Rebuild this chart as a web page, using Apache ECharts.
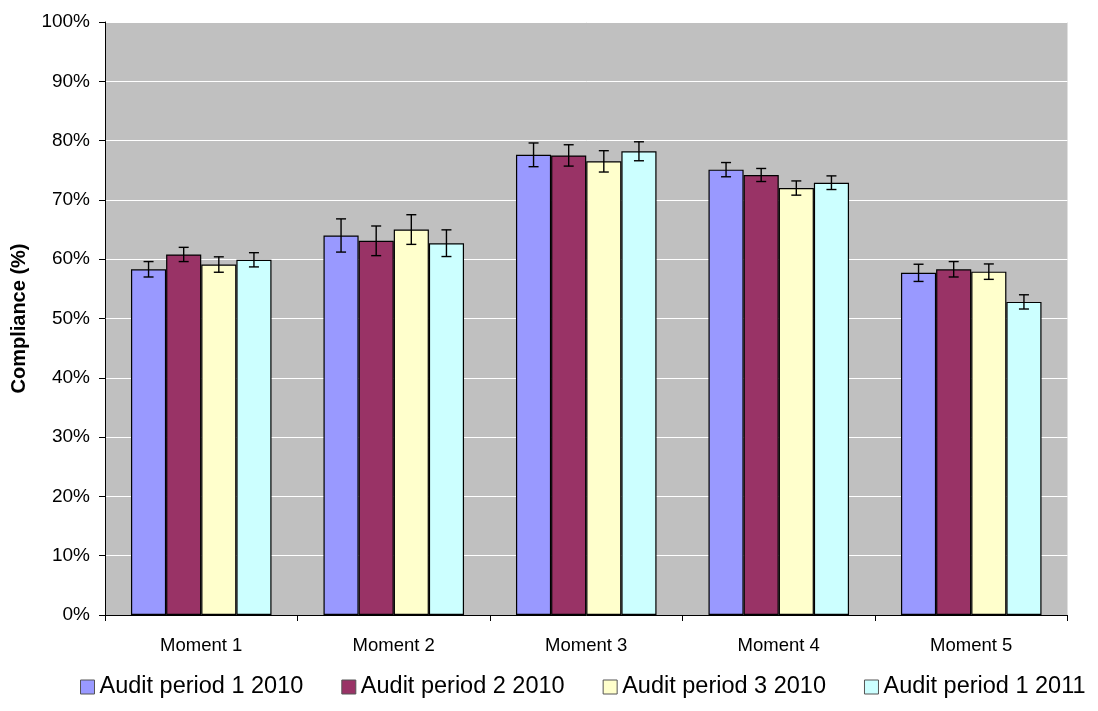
<!DOCTYPE html>
<html>
<head>
<meta charset="utf-8">
<script src="https://cdn.jsdelivr.net/npm/echarts@6/dist/echarts.min.js"></script>
<style>html,body{margin:0;padding:0;background:#fff;}#c{width:1098px;height:711px;}</style>
</head>
<body>
<div id="c"></div>
<script>
var categories = ['Moment 1', 'Moment 2', 'Moment 3', 'Moment 4', 'Moment 5'];
var seriesNames = ['Audit period 1 2010', 'Audit period 2 2010', 'Audit period 3 2010', 'Audit period 1 2011'];
var p1_2010 = [58.3, 64.0, 77.6, 75.1, 57.7];
var p2_2010 = [60.8, 63.1, 77.5, 74.2, 58.3];
var p3_2010 = [59.1, 65.0, 76.5, 72.0, 57.9];
var p1_2011 = [59.9, 62.7, 78.2, 72.9, 52.8];
var err1_2010 = [1.3, 2.8, 2.0, 1.2, 1.45];
var err2_2010 = [1.2, 2.5, 1.8, 1.1, 1.3];
var err3_2010 = [1.3, 2.5, 1.8, 1.2, 1.3];
var err1_2011 = [1.2, 2.25, 1.6, 1.15, 1.2];
var yTicks = ['0%','10%','20%','30%','40%','50%','60%','70%','80%','90%','100%'];
var colors = ['#9999FF', '#993366', '#FFFFCC', '#CCFFFF'];

var values = [p1_2010, p2_2010, p3_2010, p1_2011];
var errs = [err1_2010, err2_2010, err3_2010, err1_2011];
var catGap = 0.27;
var FONT = 'Liberation Sans, Arial, sans-serif';

var series = [];
values.forEach(function (vals, i) {
  series.push({
    name: seriesNames[i], type: 'bar', data: vals,
    barGap: '0%', barCategoryGap: '27%',
    itemStyle: { color: colors[i], borderColor: '#000', borderWidth: 1.2 },
    emphasis: { disabled: true }
  });
});
values.forEach(function (vals, i) {
  var d = vals.map(function (v, k) { return [k, v - errs[i][k], v + errs[i][k]]; });
  series.push({
    type: 'custom', name: seriesNames[i] + ' err', data: d, z: 10,
    encode: { x: 0, y: [1, 2] },
    renderItem: function (params, api) {
      var cat = api.value(0);
      var bandW = api.size([1, 0])[0];
      var bw = bandW * (1 - catGap) / 4;
      var off = (i - 1.5) * bw;
      var lo = api.coord([cat, api.value(1)]);
      var hi = api.coord([cat, api.value(2)]);
      var x = lo[0] + off;
      var cap = 5;
      var st = { stroke: '#000', lineWidth: 1.4 };
      return { type: 'group', children: [
        { type: 'line', shape: { x1: x, y1: lo[1], x2: x, y2: hi[1] }, style: st },
        { type: 'line', shape: { x1: x - cap, y1: lo[1], x2: x + cap, y2: lo[1] }, style: st },
        { type: 'line', shape: { x1: x - cap, y1: hi[1], x2: x + cap, y2: hi[1] }, style: st }
      ]};
    }
  });
});

var chart = echarts.init(document.getElementById('c'));
chart.setOption({
  animation: false,
  textStyle: { fontFamily: FONT },
  grid: { left: 105, right: 30.5, top: 22, bottom: 96, show: true, backgroundColor: '#C0C0C0', borderWidth: 0, containLabel: false, outerBoundsMode: 'none' },
  legend: {
    data: seriesNames, top: 675, left: 80, width: 1040, padding: 0, icon: 'rect', itemWidth: 14, itemHeight: 14, itemGap: 38,
    textStyle: { fontSize: 23.5, color: '#000', fontFamily: FONT },
    itemStyle: { borderColor: '#555', borderWidth: 1 }
  },
  xAxis: {
    type: 'category', data: categories,
    axisLine: { lineStyle: { color: '#000', width: 1 } },
    axisTick: { show: true, alignWithLabel: false, length: 6, lineStyle: { color: '#000' } },
    axisLabel: { fontSize: 18.5, color: '#000', margin: 21 }
  },
  yAxis: {
    type: 'value', min: 0, max: 100, interval: 10,
    name: 'Compliance (%)', nameLocation: 'middle', nameGap: 76,
    nameTextStyle: { fontSize: 20, fontWeight: 'bold', color: '#000' },
    axisLine: { show: true, lineStyle: { color: '#000', width: 1 } },
    axisTick: { show: true, length: 6, lineStyle: { color: '#000' } },
    axisLabel: { fontSize: 19, color: '#000', margin: 15, formatter: function (v) { return yTicks[Math.round(v / 10)]; } },
    splitLine: { show: true, lineStyle: { color: '#fff', width: 1 } }
  },
  series: series
});
</script>
</body>
</html>
